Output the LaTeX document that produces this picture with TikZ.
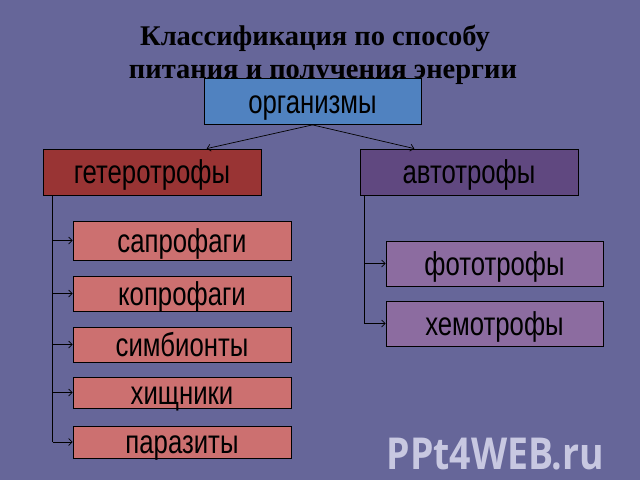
\documentclass[tikz,border=0pt]{standalone}
\usepackage{fontspec}
\setmainfont{Liberation Sans}
\newfontfamily\boxfont[FakeStretch=0.78]{Liberation Sans}
\newfontfamily\titlefont{Liberation Serif}
\newfontfamily\wmfont[FakeStretch=0.85]{Open Sans}
\usepackage{xcolor}
\usepackage{tikz}
\usetikzlibrary{calc,positioning,arrows.meta}
\definecolor{bgcol}{RGB}{102,102,153}
\definecolor{orgcol}{RGB}{80,130,192}
\definecolor{hetcol}{RGB}{153,52,52}
\definecolor{autcol}{RGB}{96,72,128}
\definecolor{hetsub}{RGB}{204,112,112}
\definecolor{autsub}{RGB}{140,108,160}
\definecolor{wmcol}{RGB}{200,200,225}

\begin{document}
\begin{tikzpicture}[x=1pt,y=-1pt,
		box/.style={draw=black,line width=0.8pt,minimum width=218pt,inner sep=0pt,text height=27pt,text depth=4pt,font=\boxfont\fontsize{33}{33}\selectfont},
		link/.style={draw=black,line width=0.7pt},
		arr/.style={link,-{Straight Barb[length=3.5pt,width=7pt]}}]
		\fill[bgcol] (0,0) rectangle (640,480);
		\useasboundingbox (0,0) rectangle (640,480);
		\node[anchor=base,font=\titlefont\bfseries\fontsize{28.5}{28.5}\selectfont] (title1) at (315,45) {Классификация по способу};
		\node[anchor=base,font=\titlefont\bfseries\fontsize{28.5}{28.5}\selectfont] (title2) at (323,78) {питания и получения энергии};
		\node[box,fill=orgcol,minimum width=217pt,minimum height=46pt] (org) at (312.5,101.5) {организмы};
		\node[box,fill=hetcol,minimum height=46pt] (het) at (152,172) {гетеротрофы};
		\node[box,fill=autcol,minimum height=46pt] (aut) at (469,172) {автотрофы};
		\node[box,fill=hetsub,minimum height=39pt] (sap) at (182,240.5) {сапрофаги};
		\node[box,fill=hetsub,minimum height=35pt] (kop) at (182,293.5) {копрофаги};
		\node[box,fill=hetsub,minimum height=35pt] (sim) at (182,344.5) {симбионты};
		\node[box,fill=hetsub,minimum height=31pt] (hish) at (182,392.5) {хищники};
		\node[box,fill=hetsub,minimum height=32pt] (par) at (182,442) {паразиты};
		\node[box,fill=autsub,minimum width=217pt,minimum height=45pt] (foto) at (494.5,263.5) {фототрофы};
		\node[box,fill=autsub,minimum width=217pt,minimum height=45pt] (hemo) at (494.5,323.5) {хемотрофы};
		\draw[arr] (org.south) -- ($(het.north)!0.5!(het.north east)$);
		\draw[arr] (org.south) -- ($(aut.north)!0.5!(aut.north west)$);
		\coordinate (lt) at ($(het.south west)+(10,0)$);
		\coordinate (rt) at ($(aut.south west)+(5,0)$);
		\draw[link] (lt) -- (lt |- par.west);
		\foreach \n in {sap,kop,sim,hish,par} \draw[arr] (lt |- \n.west) -- (\n.west);
		\draw[link] (rt) -- (rt |- hemo.west);
		\foreach \n in {foto,hemo} \draw[arr] (rt |- \n.west) -- (\n.west);
		\node[anchor=base west,text=wmcol,font=\wmfont\bfseries\fontsize{44}{44}\selectfont] (wm) at (383,469) {PPt4WEB.ru};
	\end{tikzpicture}
\end{document}
